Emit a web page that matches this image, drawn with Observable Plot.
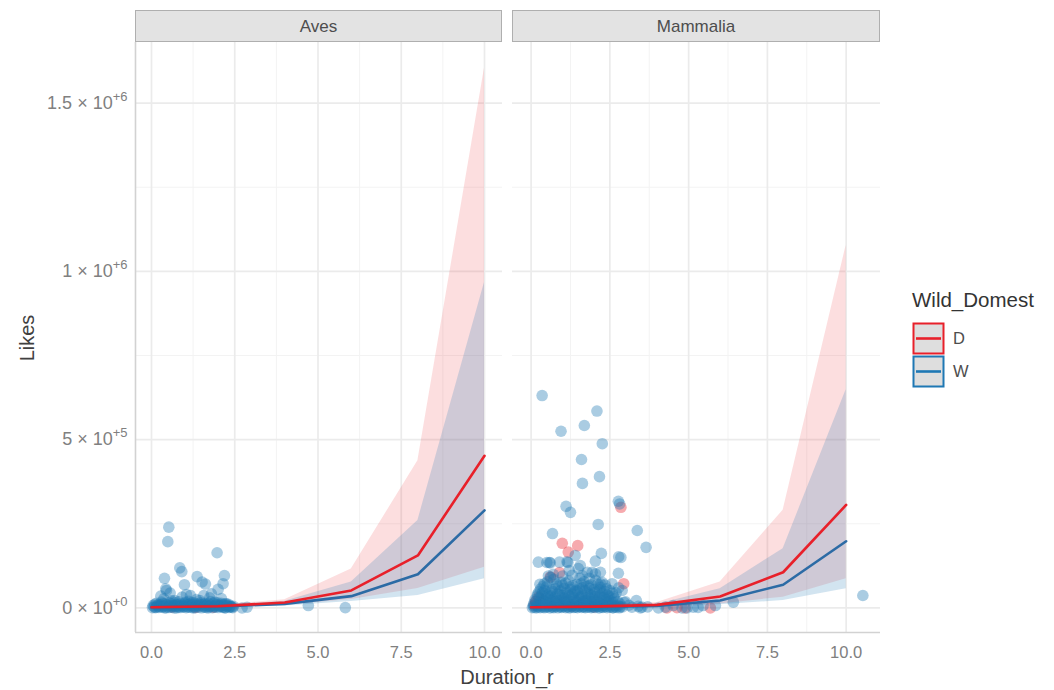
<!DOCTYPE html>
<html>
<head>
<meta charset="utf-8">
<script src="https://cdn.jsdelivr.net/npm/d3@7"></script>
<script src="https://cdn.jsdelivr.net/npm/@observablehq/plot@0.6"></script>
<style>
  html, body { margin: 0; padding: 0; background: #ffffff; }
  #root { position: relative; width: 1054px; height: 690px; overflow: hidden; font-family: "Liberation Sans", Arial, sans-serif; }
  #root svg { position: absolute; top: 0; overflow: visible; }
  .title { position: absolute; color: #404040; font-size: 20px; white-space: nowrap; }
</style>
</head>
<body>
<div id="root"></div>
<script>
// ---------------- data ----------------
const panels = ["Aves", "Mammalia"];
const groups = ["D", "W"];
const colors = { D: "#E8202A", W: "#1F78B4" };
const lineColors = { D: "#E8202A", W: "#2C6BA5" };

const xTicks = [0, 2.5, 5, 7.5, 10];
const xMinor = [1.25, 3.75, 6.25, 8.75];
const yTicks = [0, 500000, 1000000, 1500000];
const yMinor = [250000, 750000, 1250000];
const yTickLabels = ["0 × 10^+0", "5 × 10^+5", "1 × 10^+6", "1.5 × 10^+6"];

const xDomains = { Aves: [-0.48, 10.54], Mammalia: [-0.59, 11.09] };
const yDomain = [-73000, 1680000];

// fitted smooth (predicted likes) at these durations
const fitX = [0, 2, 4, 6, 8, 10];
const avesFitD = [2000, 5000, 16000, 52000, 156000, 452000];
const avesLoD  = [0, 2000, 8000, 25000, 58000, 121000];
const avesHiD  = [5000, 9000, 24000, 116000, 437000, 1604000];
const avesFitW = [1500, 4000, 12000, 35000, 100000, 290000];
const avesLoW  = [500, 2000, 6000, 19000, 37000, 87000];
const avesHiW  = [3000, 7000, 20000, 77000, 260000, 967000];
const mamFitD  = [2000, 4000, 9000, 34000, 106000, 306000];
const mamLoD   = [500, 2000, 4000, 12000, 32000, 87000];
const mamHiD   = [4000, 7000, 16000, 77000, 290000, 1077000];
const mamFitW  = [1500, 3000, 6000, 22000, 69000, 198000];
const mamLoW   = [800, 1500, 3000, 9500, 22000, 57000];
const mamHiW   = [2500, 5000, 11000, 57000, 176000, 648000];

// observed points [Duration_r, Likes]
const avesPtsD = [[0.62,3000],[1.33,1500],[1.86,2500]];
const avesPtsW = [
  [0.52,240000],[0.49,197000],[1.97,164000],[0.85,119000],[0.91,108000],[0.39,88000],[1.37,93000],
  [2.19,96000],[2.15,72000],[0.99,69000],[1.62,71000],[1.52,77000],[0.43,57000],[0.45,52000],
  [2.0,55000],[1.17,37000],[1.57,37000],[0.37,27000],[0.92,32000],[1.75,30000],[2.1,28000],
  [1.35,25000],[0.7,22000],
  [0.03,1000],[0.08,3000],[0.12,500],[0.18,6000],[0.22,1500],[0.27,9000],[0.31,2500],[0.36,4000],
  [0.41,12000],[0.44,800],[0.5,5000],[0.55,15000],[0.58,2000],[0.63,7000],[0.68,300],[0.72,10000],
  [0.77,3500],[0.82,18000],[0.86,1200],[0.9,6000],[0.95,2800],[1.0,13000],[1.04,700],[1.08,4500],
  [1.13,9500],[1.18,1800],[1.22,16000],[1.27,3000],[1.31,600],[1.36,8000],[1.41,2200],[1.46,11000],
  [1.5,400],[1.55,5500],[1.6,14000],[1.64,1500],[1.69,7500],[1.73,3200],[1.78,19000],[1.83,900],
  [1.87,6500],[1.92,2600],[1.96,10500],[2.01,1100],[2.05,4200],[2.1,13500],[2.14,2000],[2.19,8500],
  [2.23,500],[2.28,5000],[2.33,1700],[2.38,3800],[2.44,900],[0.15,14000],[0.6,21000],[1.12,20000],
  [1.45,22000],[1.9,17000],[2.25,12000],[0.3,17500],[0.75,200],[1.25,100],[1.7,250],[2.2,150],[0.4,300],
  [0.05,7000],[0.1,11000],[0.14,2000],[0.2,9500],[0.25,4500],[0.33,13000],[0.38,6500],[0.46,9000],
  [0.52,1200],[0.57,8000],[0.61,12500],[0.66,4000],[0.7,15000],[0.74,6000],[0.8,9000],[0.84,3000],
  [0.88,12000],[0.93,8500],[0.98,4000],[1.02,17000],[1.06,9000],[1.1,2500],[1.15,12000],[1.2,6500],
  [1.24,10000],[1.29,14500],[1.33,5000],[1.38,11500],[1.43,6500],[1.48,15500],[1.53,9000],[1.58,2500],
  [1.62,10000],[1.66,6000],[1.71,12500],[1.76,4800],[1.8,9500],[1.85,14000],[1.89,3500],[1.94,7500],
  [1.99,15000],[2.03,8000],[2.08,5500],[2.12,10000],[2.17,3000],[2.21,12500],[2.26,7000],[2.31,10500],
  [2.36,6000],[2.41,2500],[2.46,5000],[0.56,44000],[1.05,40000],[1.8,42000],[0.28,35000],
  [2.72,0],[2.87,2000],[4.71,7000],[5.82,1000]
];
const mamPtsD = [
  [2.85,299000],[0.99,192000],[1.48,185000],[1.18,166000],[0.9,105000],[0.61,92000],[2.94,72000],
  [0.24,32000],[0.14,12000],[4.31,0],[4.63,1000],[4.89,0],[5.69,0],[0.1,8000],[0.15,20000],
  [1.3,5000],[2.0,3000]
];
const mamPtsW = [
  [0.35,631000],[2.09,585000],[0.95,525000],[1.69,542000],[2.26,488000],[1.6,441000],[2.17,390000],
  [1.63,370000],[2.77,317000],[2.81,309000],[1.11,302000],[1.25,284000],[2.13,248000],[3.37,230000],
  [3.65,180000],[0.68,221000],[1.4,156000],[2.23,162000],[2.78,152000],[2.85,150000],[0.23,136000],
  [0.58,135000],[0.9,136000],[1.17,135000],[1.56,126000],[2.04,139000],[1.21,111000],[1.5,117000],
  [1.94,106000],[2.2,106000],[2.77,103000],[1.78,106000],[2.04,101000],[2.2,72000],[2.57,72000],
  [2.89,52000],[3.34,22000],[2.96,16000],[6.42,17000],[10.53,37000],[0.5,135000],[0.61,134000],[1.14,137000],
  [3.2,2000],[3.47,0],[2.83,3000],[2.6,1000],[3.52,2400],[4.04,0],[4.26,2400],[4.51,7000],[4.79,0],
  [4.95,0],[5.15,2400],[5.3,1500],[5.46,7000],[5.85,7000],[3.0,18000],[3.1,8000],[3.4,5000],[3.7,3000],
  [0.04,500],[0.1,1800],[0.16,300],[0.22,2500],[0.29,900],[0.35,3200],[0.41,600],[0.47,1500],[0.53,4000],
  [0.6,200],[0.66,2200],[0.72,1000],[0.78,3500],[0.85,400],[0.91,2700],[0.97,1300],[1.03,3800],[1.1,700],
  [1.16,2000],[1.22,150],[1.28,3000],[1.35,1100],[1.41,2400],[1.47,500],[1.53,3600],[1.6,1400],[1.66,2900],
  [1.72,800],[1.78,1900],[1.85,3300],[1.91,600],[1.97,2600],[2.03,1200],[2.1,3900],[2.16,300],[2.22,2100],
  [2.28,1600],[2.35,3400],[2.41,700],[2.5,2300],[2.6,900],[2.7,1700],[2.8,400],[2.9,2800],
  [0.07,6000],[0.19,5000],[0.31,7000],[0.44,5500],[0.56,6500],[0.69,4800],[0.81,7200],[0.94,5200],
  [1.06,6800],[1.18,5000],[1.3,7000],[1.43,5600],[1.55,6200],[1.67,4900],[1.8,7100],[1.92,5300],
  [2.04,6600],[2.16,5100],[2.28,6900],[2.4,5400],[2.53,6000],[2.66,4500],[2.78,5800],
  [0.08,12000],[0.2,9000],[0.33,15000],[0.45,11000],[0.57,17000],[0.7,8500],[0.82,14000],[0.95,10000],
  [1.07,16500],[1.19,12500],[1.31,9500],[1.44,17500],[1.56,11500],[1.68,14500],[1.8,8000],[1.93,16000],
  [2.05,10500],[2.17,13500],[2.29,9000],[2.42,15500],[2.55,11000],[2.68,8000],[2.82,12000],
  [0.14,19000],[0.3,21000],[0.47,18500],[0.62,23000],[0.76,19500],[0.9,22000],[1.04,18000],[1.18,21500],
  [1.33,19000],[1.5,23500],[1.62,18500],[1.75,22500],[1.88,19500],[2.02,21000],[2.15,18000],[2.31,23000],
  [2.47,19000],[2.6,17000],[2.75,20000],
  [0.12,24000],[0.27,30000],[0.4,22000],[0.55,33000],[0.68,26000],[0.83,21000],[0.97,31000],[1.12,25000],
  [1.26,34000],[1.39,23000],[1.54,29000],[1.67,20500],[1.82,32000],[1.96,27000],[2.1,22500],[2.25,30500],
  [2.38,25500],[2.52,21000],[2.65,28000],
  [0.2,35000],[0.34,38000],[0.48,29000],[0.62,36000],[0.77,33000],[0.9,39000],[1.05,29500],[1.2,36500],
  [1.35,31000],[1.5,38500],[1.6,33500],[1.74,30000],[1.88,40000],[2.02,34000],[2.18,37000],[2.32,32000],
  [2.47,35500],[2.62,33000],
  [0.2,40000],[0.36,46000],[0.52,38000],[0.68,49000],[0.84,42000],[1.0,37000],[1.15,47000],[1.31,41000],
  [1.47,50000],[1.62,39000],[1.78,45000],[1.93,36500],[2.09,48000],[2.26,43000],[2.42,38000],[2.58,44000],
  [0.25,48000],[0.43,52000],[0.6,45000],[0.76,57000],[0.92,51000],[1.08,44000],[1.25,55000],[1.38,48500],
  [1.55,56000],[1.72,51500],[1.86,58000],[2.03,47000],[2.18,53500],[2.33,49000],[2.5,52000],
  [0.3,56000],[0.48,62000],[0.66,54000],[0.86,65000],[1.05,58000],[1.24,63000],[1.42,53000],[1.63,60000],
  [1.82,66000],[2.0,55000],[2.2,61000],[2.4,57000],
  [0.38,64000],[0.52,78000],[0.8,70000],[1.0,67000],[1.1,74000],[1.33,66000],[1.58,72000],[1.76,64000],
  [2.12,70000],[2.25,76000],[0.7,100000],[1.0,95000],[1.3,97000],[1.62,96000],[1.85,88000],
  [0.42,72000],[0.55,95000],[0.72,85000],[0.95,76000],[1.2,80000],[1.45,70000],[1.68,78000],[1.9,69000],
  [2.35,68000],[0.62,90000],[1.55,88000],[2.05,82000],[0.28,70000],[2.7,45000],[2.78,60000]
];

// ---------------- build ----------------
const fitRows = (lo, mid, hi) => fitX.map((x, i) => ({ x, lo: lo[i], fit: mid[i], hi: hi[i] }));
const panelData = {
  Aves: {
    fits: { D: fitRows(avesLoD, avesFitD, avesHiD), W: fitRows(avesLoW, avesFitW, avesHiW) },
    pts: { D: avesPtsD, W: avesPtsW }
  },
  Mammalia: {
    fits: { D: fitRows(mamLoD, mamFitD, mamHiD), W: fitRows(mamLoW, mamFitW, mamHiW) },
    pts: { D: mamPtsD, W: mamPtsW }
  }
};
const FONT = '"Liberation Sans", Arial, sans-serif';
const root = document.getElementById("root");

function makePanel(name, cfg) {
  const xd = xDomains[name];
  const { fits, pts } = panelData[name];
  const marks = [
    Plot.ruleX(xMinor, { stroke: "#F3F3F3", strokeWidth: 1 }),
    Plot.ruleY(yMinor, { stroke: "#F3F3F3", strokeWidth: 1 }),
    Plot.ruleX(xTicks, { stroke: "#EBEBEB", strokeWidth: 1.7 }),
    Plot.ruleY(yTicks, { stroke: "#EBEBEB", strokeWidth: 1.7 }),
    Plot.dot(pts.D, { x: d => d[0], y: d => d[1], r: 5.8, fill: colors.D, fillOpacity: 0.38 }),
    Plot.dot(pts.W, { x: d => d[0], y: d => d[1], r: 5.8, fill: colors.W, fillOpacity: 0.38 }),
    Plot.areaY(fits.D, { x: "x", y1: "lo", y2: "hi", fill: colors.D, fillOpacity: 0.15 }),
    Plot.areaY(fits.W, { x: "x", y1: "lo", y2: "hi", fill: colors.W, fillOpacity: 0.2 }),
    Plot.lineY(fits.W, { x: "x", y: "fit", stroke: lineColors.W, strokeWidth: 2.6 }),
    Plot.lineY(fits.D, { x: "x", y: "fit", stroke: lineColors.D, strokeWidth: 2.6 }),
    Plot.ruleY([yDomain[0]], { stroke: "#D2D2D2", strokeWidth: 1.6 }),
    Plot.axisX(xTicks, { tickSize: 0, tickPadding: 14, tickFormat: d => d.toFixed(1), label: null })
  ];
  if (cfg.showY) {
    marks.push(Plot.ruleX([xd[0]], { stroke: "#D2D2D2", strokeWidth: 1.6 }));
    marks.push(Plot.axisY(yTicks, { tickSize: 0, tickPadding: 8, fontSize: 18, tickFormat: d => yTickLabels[yTicks.indexOf(d)], label: null }));
  }
  const svg = Plot.plot({
    width: cfg.width, height: 690,
    marginLeft: cfg.marginLeft, marginRight: 0, marginTop: 42, marginBottom: 58,
    x: { domain: xd },
    y: { domain: yDomain, axis: cfg.showY ? undefined : null },
    style: { fontFamily: FONT, fontSize: "16.5px", color: "#808080", background: "transparent", overflow: "visible" },
    marks
  });
  svg.style.left = cfg.left + "px";
  const sel = d3.select(svg);
  // superscripts on y tick labels
  sel.selectAll('g[aria-label="y-axis tick label"] text').each(function () {
    const t = this.textContent;
    const [base, sup] = t.split("^");
    this.textContent = base;
    d3.select(this).append("tspan").attr("dy", "-8").style("font-size", "13px").text(sup);
  });
  // facet strip
  const [r0, r1] = svg.scale("x").range;
  sel.append("rect").attr("x", r0 + 0.5).attr("y", 10.5).attr("width", r1 - r0 - 1).attr("height", 31)
    .attr("fill", "#E3E3E3").attr("stroke", "#AFAFAF").attr("stroke-width", 1);
  sel.append("text").attr("x", (r0 + r1) / 2).attr("y", 26).attr("dy", "0.35em")
    .attr("text-anchor", "middle").attr("fill", "#4D4D4D").style("font-size", "17px").style("font-family", FONT).text(name);
  root.appendChild(svg);
}

makePanel("Aves", { left: 0, width: 502, marginLeft: 135, showY: true });
makePanel("Mammalia", { left: 512, width: 368, marginLeft: 0, showY: false });

// axis titles
const xt = document.createElement("div");
xt.className = "title"; xt.textContent = "Duration_r";
xt.style.left = "507px"; xt.style.top = "677px"; xt.style.transform = "translate(-50%,-50%)";
root.appendChild(xt);
const yt = document.createElement("div");
yt.className = "title"; yt.textContent = "Likes";
yt.style.left = "27px"; yt.style.top = "338px"; yt.style.transform = "translate(-50%,-50%) rotate(-90deg)";
root.appendChild(yt);

// legend
const leg = d3.select(root).append("svg").attr("width", 160).attr("height", 120)
  .style("left", "900px").style("top", "280px");
leg.append("text").attr("x", 12).attr("y", 27).attr("fill", "#333").style("font-size", "20.5px")
  .style("font-family", FONT).text("Wild_Domest");
groups.forEach((g, i) => {
  const y0 = 43 + i * 33;
  leg.append("rect").attr("x", 13.5).attr("y", y0 + 0.5).attr("width", 30).attr("height", 30)
    .attr("fill", "#DEDEDE").attr("stroke", colors[g]).attr("stroke-width", 2);
  leg.append("line").attr("x1", 16).attr("x2", 41).attr("y1", y0 + 15.5).attr("y2", y0 + 15.5)
    .attr("stroke", colors[g]).attr("stroke-width", 2.6);
  leg.append("text").attr("x", 53).attr("y", y0 + 15.5).attr("dy", "0.36em").attr("fill", "#4D4D4D")
    .style("font-size", "16.5px").style("font-family", FONT).text(g);
});
</script>
</body>
</html>
